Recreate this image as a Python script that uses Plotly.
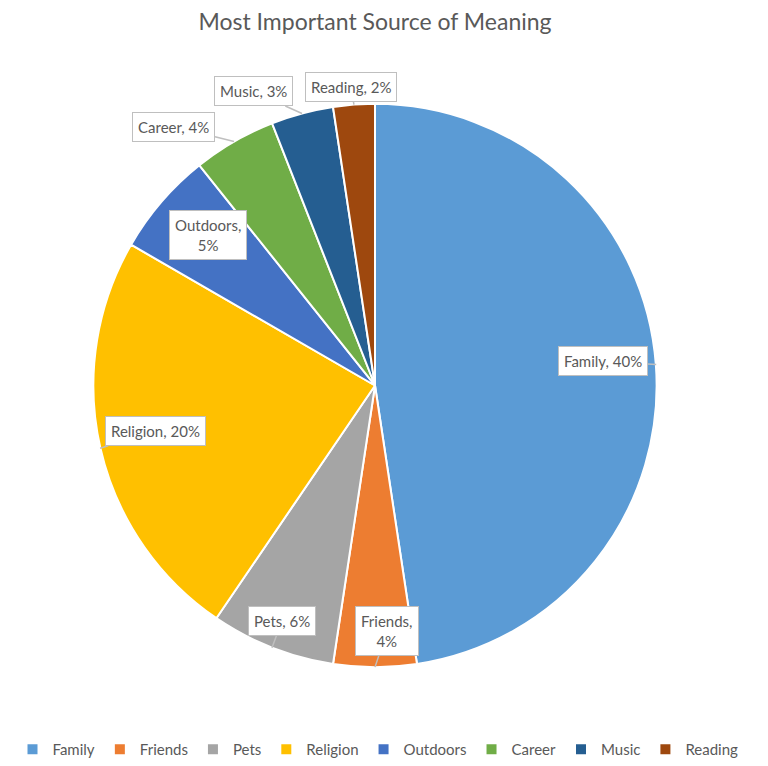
import math
import plotly.graph_objects as go

# ---- data ----
categories = ["Family", "Friends", "Pets", "Religion", "Outdoors", "Career", "Music", "Reading"]
values = [40, 4, 6, 20, 5, 4, 3, 2]
label_texts = ["Family, 40%", "Friends,<br>4%", "Pets, 6%", "Religion, 20%",
               "Outdoors,<br>5%", "Career, 4%", "Music, 3%", "Reading, 2%"]

# ---- styles ----
colors = ["#5B9BD5", "#ED7D31", "#A5A5A5", "#FFC000", "#4472C4", "#70AD47", "#255E91", "#9E480E"]
W, H = 768, 766
CX, CY, R = 375, 386, 282
# callout box offsets (pixels) relative to the slice edge point
callout_offsets = [(-53, -3), (12, -36), (10, -27), (55, -17), (47, 33), (-60, -15), (-49, -22), (-3, -18)]
FONT = "Lato, Open Sans, sans-serif"

fig = go.Figure()
fig.add_trace(go.Pie(
    labels=categories,
    values=values,
    sort=False,
    direction="clockwise",
    rotation=0,
    marker=dict(colors=colors, line=dict(color="white", width=2)),
    textinfo="none",
    hoverinfo="label+value",
    domain=dict(x=[(CX - R) / W, (CX + R) / W], y=[1 - (CY + R) / H, 1 - (CY - R) / H]),
))

total = sum(values)
cum = 0
annotations = []
for i, v in enumerate(values):
    mid = (cum + v / 2) / total * 2 * math.pi
    cum += v
    px = CX + R * math.sin(mid)
    py = CY - R * math.cos(mid)
    ax, ay = callout_offsets[i]
    annotations.append(dict(
        x=px / W, y=1 - py / H, xref="paper", yref="paper",
        text=label_texts[i], showarrow=True, ax=ax, ay=ay,
        arrowhead=0, arrowwidth=1.5, arrowcolor="#BFBFBF",
        bgcolor="white", bordercolor="#BFBFBF", borderwidth=1, borderpad=5,
        font=dict(family=FONT, size=15, color="#595959"),
        align="center",
    ))

fig.update_layout(
    width=W, height=H,
    margin=dict(l=0, r=0, t=0, b=0),
    paper_bgcolor="white",
    title=dict(text="Most Important Source of Meaning", x=375 / W, xanchor="center",
               y=1 - 22 / H, yanchor="middle",
               font=dict(family=FONT, size=23, color="#595959")),
    showlegend=True,
    legend=dict(orientation="h", x=378 / W, xanchor="center", y=1 - 750 / H, yanchor="middle",
                font=dict(family=FONT, size=15, color="#595959"),
                itemwidth=30, traceorder="normal"),
    annotations=annotations,
)

fig.write_html("out.html")
